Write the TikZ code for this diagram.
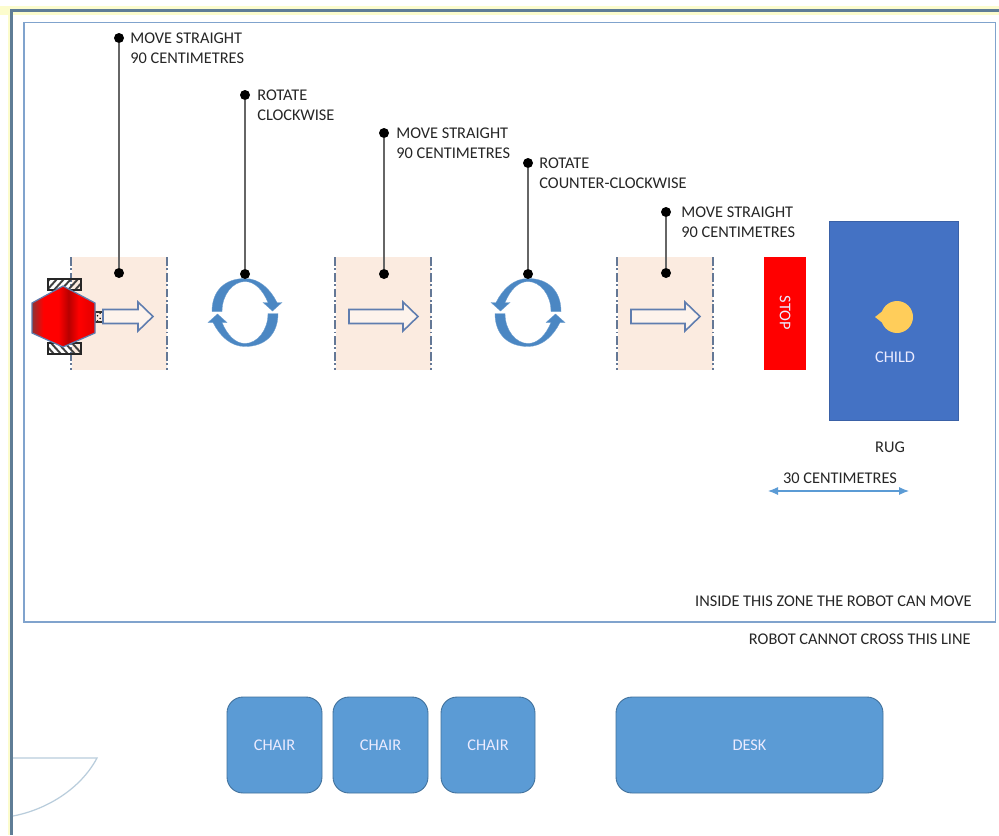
\documentclass[tikz,border=0pt]{standalone}
\usepackage{fontspec}
\setmainfont{Carlito}
\usetikzlibrary{positioning,patterns,arrows.meta}
\definecolor{frameColor}{RGB}{128,163,205}
\definecolor{outerColor}{RGB}{95,125,150}
\definecolor{paleYellow}{RGB}{252,252,205}
\definecolor{zoneColor}{RGB}{251,235,224}
\definecolor{zoneLineColor}{RGB}{100,120,150}
\definecolor{arrowLineColor}{RGB}{95,125,175}
\definecolor{ringColor}{RGB}{75,135,195}
\definecolor{rugColor}{RGB}{68,114,196}
\definecolor{furnitureColor}{RGB}{91,155,213}
\definecolor{furnitureLine}{RGB}{65,113,156}
\definecolor{childColor}{RGB}{255,205,90}
\definecolor{doorColor}{RGB}{185,205,220}
\pgfdeclarehorizontalshading{robotShade}{100bp}{color(0bp)=(red!45!black!80); color(25bp)=(red!45!black!80); color(34bp)=(red); color(46bp)=(red); color(54bp)=(red!72!black); color(62bp)=(red); color(75bp)=(red!88!black); color(100bp)=(red!88!black)}
\tikzstyle{room} = [x = .02cm, y = -.02cm]
\tikzstyle{labelText} = [font=\fontsize{9.3}{11.4}\selectfont, text=black!85, inner sep=0pt, align=left]
\tikzstyle{whiteText} = [font=\fontsize{9.3}{11.4}\selectfont, text=white!92!blue, inner sep=0pt]
\tikzstyle{stepText} = [labelText, anchor=north west]
\tikzstyle{dotNode} = [circle, fill=black, inner sep=0pt, minimum size=.2cm]
\tikzstyle{stemLine} = [color=black!60, line width=.8pt]
\tikzstyle{zoneStyle} = [fill=zoneColor, draw=none]
\tikzstyle{zoneEdge} = [color=zoneLineColor, line width=.7pt, dash pattern=on 5pt off 1.5pt on 1pt off 1.5pt]
\tikzstyle{blockArrow} = [draw=arrowLineColor, fill=zoneColor!60!white, line width=.9pt]
\tikzstyle{ringArrow} = [fill=ringColor, draw=ringColor!80!white, line width=.2pt]
\tikzstyle{furnitureStyle} = [fill=furnitureColor, draw=furnitureLine, line width=.5pt, rounded corners=.32cm]
\tikzstyle{wheelStyle} = [draw=black!85, line width=.9pt]
\tikzstyle{wheelStripe} = [color=black!75, line width=1.1pt]
\newcommand{\stepZone}[1]{
  \fill [zoneStyle] (#1 + 1, 257) rectangle + (95, 113);
  \draw [zoneEdge] (#1, 257) -- + (0, 113);
  \draw [zoneEdge] (#1 + 96, 257) -- + (0, 113);
}
\newcommand{\straightArrow}[2]{
  \filldraw [blockArrow] (#1, 309.5) -- (#2 - 15, 309.5) -- (#2 - 15, 302) -- (#2, 316.5) -- (#2 - 15, 331) -- (#2 - 15, 323.5) -- (#1, 323.5) -- cycle;
}
\newcommand{\stepCallout}[6]{
  \node [dotNode] (#1Top) at (#2, #3) {};
  \node [dotNode] (#1Low) at (#2, #4) {};
  \draw [stemLine] (#1Top) -- (#1Low);
  \node [stepText] (#1Text) at (#2 + #5, #3 - 5) {#6};
}
\newcommand{\rotateRing}[2]{
  \begin{scope}[shift={(#1, 312.5)}, xscale=#2]
    \foreach \turn in {0,180} {
      \filldraw [ringArrow, rotate=\turn] (-33, -1) .. controls (-33, -22) and (-20, -34) .. (0, -34) .. controls (14, -34) and (25, -24) .. (32, -10) -- (37, -10) -- (27.5, -1.5) -- (18, -10) -- (23, -10) .. controls (18, -22) and (10, -31) .. (0, -31) .. controls (-12, -31) and (-23, -18) .. (-23, -1) -- cycle;
    }
  \end{scope}
}
\newcommand{\wheel}[2]{
  \begin{scope}
    \clip (48, #1) rectangle + (33, 11);
    \foreach \stripe in {40,47,...,85} {
      \draw [wheelStripe] (\stripe, #1 + 11) -- + (#2, -11);
    }
  \end{scope}
  \draw [wheelStyle] (48, #1) rectangle + (33, 11);
}
\newcommand{\furniture}[4]{\filldraw [furnitureStyle] (#2, 697) rectangle + (#3, 96) node [whiteText, midway] (#1) {#4};}
\begin{document}
\begin{tikzpicture}[room]
  \useasboundingbox (0, 0) rectangle (999, 835);
  \fill [white] (0, 0) rectangle (999, 835);
  \fill [paleYellow] (0, 6) rectangle (999, 15);
  \fill [paleYellow] (8, 6) rectangle (16, 835);
  \fill [white] (13, 15) rectangle (999, 835);
  \draw [outerColor, line width=1.3pt] (999, 10.5) -- (11.5, 10.5) -- (11.5, 835);
  \draw [frameColor, line width=.9pt] (24, 22.5) rectangle (995.5, 622);

  \stepZone{71}
  \stepZone{335}
  \stepZone{617}

  \wheel{279}{10}
  \wheel{343}{-10}
  \filldraw [draw=black!80, fill=black!35, pattern color=black, pattern=crosshatch dots, line width=.6pt] (95, 312) rectangle (103, 322);
  \straightArrow{103}{153}
  \straightArrow{349}{418}
  \straightArrow{631}{700}
  \draw [draw=arrowLineColor, line width=.7pt, shading=robotShade] (63, 286) -- (95, 303) -- (95, 333) -- (63, 347) -- (32, 333) -- (32, 303) -- cycle;

  \rotateRing{245}{1}
  \rotateRing{528}{-1}

  \stepCallout{moveA}{119}{38}{273}{11}{MOVE STRAIGHT\\90 CENTIMETRES}
  \stepCallout{turnA}{245}{95}{274}{12}{ROTATE\\CLOCKWISE}
  \stepCallout{moveB}{384}{133}{274}{12}{MOVE STRAIGHT\\90 CENTIMETRES}
  \stepCallout{turnB}{528}{163}{274}{11}{ROTATE\\COUNTER-CLOCKWISE}
  \stepCallout{moveC}{666}{212}{273}{15}{MOVE STRAIGHT\\90 CENTIMETRES}

  \fill [red] (764, 257) rectangle (806, 370);
  \node [whiteText, rotate=-90] (stopText) at (785, 313) {STOP};
  \filldraw [fill=rugColor, draw=rugColor!85!black, line width=.5pt] (829, 221) rectangle (958, 420);
  \fill [childColor] (875, 317) -- (889, 306) -- (889, 328) -- cycle;
  \node [circle, fill=childColor, inner sep=0pt, minimum size=.64cm] (child) at (897, 317) {};
  \node [whiteText] (childText) at (895, 357) {CHILD};
  \node [labelText] (rugText) at (890, 447) {RUG};
  \node [labelText] (distanceText) at (840, 478) {30 CENTIMETRES};
  \coordinate (distanceLeft) at (768, 491);
  \coordinate (distanceRight) at (909, 491);
  \draw [{Latex[length=.2cm,width=.16cm]}-{Latex[length=.2cm,width=.16cm]}, color=furnitureColor, line width=.6pt] (distanceLeft) -- (distanceRight);

  \node [labelText, anchor=east] (zoneText) at (972, 601) {INSIDE THIS ZONE THE ROBOT CAN MOVE};
  \node [labelText, anchor=east] (lineText) at (971, 639) {ROBOT CANNOT CROSS THIS LINE};

  \furniture{chairA}{227}{95}{CHAIR}
  \furniture{chairB}{333}{95}{CHAIR}
  \furniture{chairC}{441}{94}{CHAIR}
  \furniture{desk}{616}{267}{DESK}

  \draw [doorColor, line width=.7pt] (13, 758) -- (97, 758) .. controls (80, 790) and (45, 810) .. (13, 816);
\end{tikzpicture}
\end{document}
